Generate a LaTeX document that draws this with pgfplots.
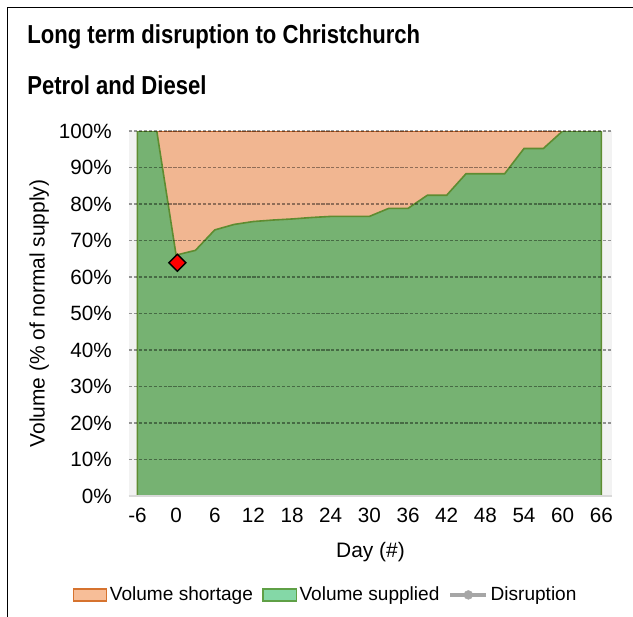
\documentclass[border=0pt]{standalone}
\usepackage{fontspec}
\setmainfont{Liberation Sans}
\newfontfamily\narrowbold{Liberation Sans}[FakeStretch=0.85]
\usepackage{pgfplots}
\usepackage{pgfplotstable}
\pgfplotsset{compat=1.18}

\definecolor{orangefill}{HTML}{F1B691}
\definecolor{orangeline}{HTML}{C5692F}
\definecolor{greenfill}{HTML}{76B272}
\definecolor{greenline}{HTML}{5E8C31}
\definecolor{leggreen}{HTML}{84D8A7}
\definecolor{legorange}{HTML}{F7BE98}
\definecolor{legorangeline}{HTML}{D6732F}
\definecolor{leggreenline}{HTML}{5FA046}
\definecolor{bggrey}{HTML}{F2F2F2}
\definecolor{disgrey}{HTML}{A6A6A6}

\pgfplotstableread{
day supplied
-6 100
-3 100
0 66
3 67.3
6 72.9
9 74.4
12 75.2
15 75.6
18 75.9
21 76.3
24 76.6
27 76.6
30 76.6
33 78.8
36 78.8
39 82.4
42 82.4
45 88.3
48 88.3
51 88.3
54 95.2
57 95.2
60 100
63 100
66 100
}\supplied

\pgfplotstableread{
day total
-6 100
66 100
}\total

\begin{document}
\begin{tikzpicture}
\useasboundingbox (0,0) rectangle (474.75pt,-462.75pt);
\draw[line width=1.4pt] (5.6pt,-470pt) -- (5.6pt,-5.6pt) -- (480pt,-5.6pt);
\node[anchor=base west, inner sep=0pt, font=\narrowbold\bfseries\fontsize{19.5}{22}\selectfont] at (20.25pt,-33pt) {Long term disruption to Christchurch};
\node[anchor=base west, inner sep=0pt, font=\narrowbold\bfseries\fontsize{19.5}{22}\selectfont] at (20.25pt,-71.25pt) {Petrol and Diesel};
\begin{axis}[
  at={(96.75pt,-372pt)}, anchor=south west,
  scale only axis, width=362.25pt, height=273.75pt,
  xmin=-7.31, xmax=67.66, ymin=0, ymax=100,
  xtick={-6,0,...,66},
  xticklabels={-6,0,6,12,18,24,30,36,42,48,54,60,66},
  ytick={0,10,...,100},
  yticklabels={0\%,10\%,20\%,30\%,40\%,50\%,60\%,70\%,80\%,90\%,100\%},
  axis background/.style={fill=bggrey},
  axis x line*=bottom, axis y line*=left,
  x axis line style={draw=black!15, line width=1pt, -},
  y axis line style={draw=none},
  tick style={draw=none}, major tick length=0pt,
  ymajorgrids,
  grid style={draw=black, opacity=0.4, line width=0.9pt, dash pattern=on 2.4pt off 1.3pt},
  axis on top,
  /pgf/number format/assume math mode=true,
  tick label style={font=\fontsize{15.5}{18}\selectfont},
  yticklabel style={inner sep=0pt, xshift=-12.75pt},
  xticklabel style={inner sep=0pt, yshift=-8.8pt},
  xlabel={Day (\#)},
  ylabel={Volume (\% of normal supply)},
  label style={font=\fontsize{15.7}{18}\selectfont},
  xlabel style={at={(axis description cs:0.5,-0.153)}, anchor=center},
  ylabel style={at={(axis description cs:-0.186,0.5)}, anchor=center},
  legend columns=3,
  legend cell align=left,
  legend style={at={(axis description cs:-0.1166,-0.271)}, anchor=west,
    draw=none, fill=none, inner sep=0pt, outer sep=0pt,
    font=\fontsize{14.3}{16}\selectfont,
    /tikz/every odd column/.append style={column sep=0pt},
    /tikz/every even column/.append style={column sep=5pt}},
]
\addplot[fill=orangefill, draw=none, forget plot] table[x=day, y=total] {\total} \closedcycle;
\addplot[draw=orangeline, line width=1.3pt, forget plot] table[x=day, y=total] {\total};
\addplot[fill=greenfill, draw=greenline, line width=1.2pt, forget plot] table[x=day, y=supplied] {\supplied} \closedcycle;
\addplot[only marks, mark=square*, mark size=4.5pt, mark options={rotate=45, fill=red, draw=black, line width=1pt}, forget plot] coordinates {(0.2,63.9)};

\addlegendimage{legend image code/.code={\draw[fill=legorange, draw=legorangeline, line width=0.9pt] (0pt,-4.5pt) rectangle (25pt,4.5pt);}}
\addlegendentry{Volume shortage}
\addlegendimage{legend image code/.code={\draw[fill=leggreen, draw=leggreenline, line width=0.9pt] (0pt,-4.5pt) rectangle (25pt,4.5pt);}}
\addlegendentry{Volume supplied}
\addlegendimage{legend image code/.code={\draw[draw=disgrey, line width=2.4pt] (0pt,0pt) -- (27pt,0pt); \fill[disgrey] (13.5pt,0pt) circle (3.3pt);}}
\addlegendentry{Disruption}
\end{axis}
\end{tikzpicture}
\end{document}
